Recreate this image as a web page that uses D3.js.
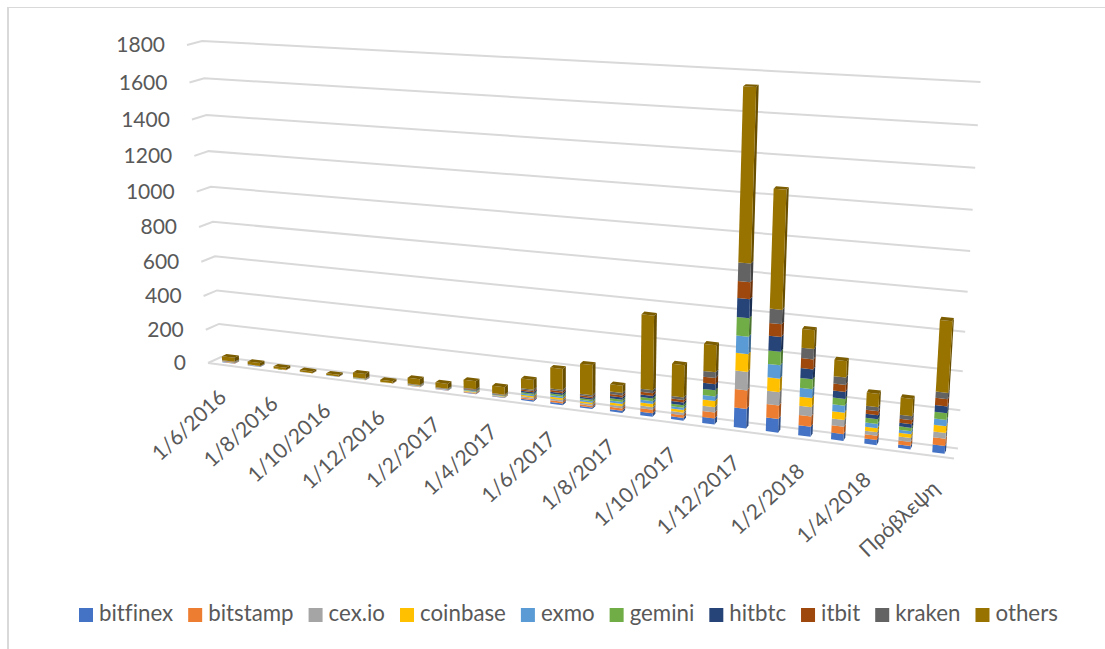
<!DOCTYPE html>
<html>
<head>
<meta charset="utf-8">
<script src="https://cdn.jsdelivr.net/npm/d3@7"></script>
<style>
  html, body { margin: 0; padding: 0; background: #fff; }
  svg { display: block; }
  text { font-family: Lato, "Open Sans", sans-serif; fill: #595959; font-variant-ligatures: none; }
</style>
</head>
<body>
<svg id="chart" width="1105" height="649"></svg>
<script>
// Monthly category labels: only every second month is printed on the axis.
const categories = ["1/6/2016","1/7/2016","1/8/2016","1/9/2016","1/10/2016","1/11/2016","1/12/2016",
  "1/1/2017","1/2/2017","1/3/2017","1/4/2017","1/5/2017","1/6/2017","1/7/2017","1/8/2017","1/9/2017",
  "1/10/2017","1/11/2017","1/12/2017","1/1/2018","1/2/2018","1/3/2018","1/4/2018","1/5/2018","Πρόβλεψη"];
const valueTicks = [0,200,400,600,800,1000,1200,1400,1600,1800];

const bitfinex = [2,1,0.5,0.4,0.4,1,0.4,1.4,1.3,3.2,2.1,7.5,10,9,12,19,15,33,106,74,54,36,27,18,40];
const bitstamp = [2,1,0.5,0.4,0.4,1,0.4,1.4,1.3,3.2,2.1,7.5,10,9,13,19,15,33,100,72,54,39,23,21,38];
const cexio    = [1,0.6,0.3,0.3,0.3,1,0.4,1.4,1.3,3.2,2.1,7.5,10,8.5,12,15,14,29,99,71,49,36,18,21,30];
const coinbase = [1,0.6,0.3,0.3,0.3,1,0.3,1.4,1.3,3.2,2.1,7.5,10,8.5,12,17,14,33,94,71,49,39,21,19,35];
const exmo     = [1,0.6,0.3,0.2,0.3,1,0.3,1.4,1.3,3.2,2.1,7.5,8,8.5,12,15,13,25,91,71,47,36,23,16,32];
const gemini   = [1,0.6,0.3,0.2,0.2,1,0.3,1.4,1.3,3.2,2.1,7.5,10,8.5,12,15,14,33,97,71,52,36,24,18,35];
const hitbtc   = [1,0.6,0.2,0.2,0.2,1,0.3,1.4,1.3,3.2,2.1,7.5,10,8.5,12,15,14,33,99,77,52,37,21,19,35];
const itbit    = [1,0.6,0.2,0.2,0.2,1,0.3,1.4,1.3,3.2,2.1,7.5,10,8.5,12,15,14,33,88,67,52,36,21,21,38];
const kraken   = [2,1,0.5,0.3,0.3,1,0.3,1.4,1.3,3.2,2.1,7.5,8,8.5,13,16,14,31,95,74,54,39,21,21,32];
const others   = [24,17,12,10,10,28,12,34,28,46,42,55,117,167,40,403,175,144,871,605,97,85,70,89,362];

const seriesNames  = ["bitfinex","bitstamp","cex.io","coinbase","exmo","gemini","hitbtc","itbit","kraken","others"];
const seriesValues = [bitfinex,bitstamp,cexio,coinbase,exmo,gemini,hitbtc,itbit,kraken,others];
const seriesColors = ["#4472C4","#ED7D31","#A5A5A5","#FFC000","#5B9BD5","#70AD47","#264478","#9E480E","#636363","#997300"];

const svg = d3.select("#chart");
const GRID = "#D9D9D9";

// Frame of the chart area.
svg.append("path").attr("d", "M8,649V7.5H1105").attr("fill", "none").attr("stroke", GRID).attr("stroke-width", 1);
svg.append("line").attr("x1", 8).attr("x2", 8).attr("y1", 7).attr("y2", 649).attr("stroke", GRID).attr("stroke-width", 2);

// Perspective stretches the value axis slightly towards the top.
const valueT = d3.scaleLinear().domain([0, 1800]).range([0, 1]);
const lift = 0.07;
const warp = v => { const t = valueT(v); return t / (1 + lift * (1 - t)); };

// The perspective box: one value-to-pixel mapping for each vertical edge.
const edge = (x0, x1, y0, y1) => {
  const sx = d3.scaleLinear().domain([0, 1]).range([x0, x1]);
  const sy = d3.scaleLinear().domain([0, 1]).range([y0, y1]);
  return { x: v => sx(warp(v)), y: v => sy(warp(v)) };
};
const backLeft   = edge(221, 202, 357, 41);
const backRight  = edge(958, 980.5, 448.5, 82);
const frontLeft  = edge(208, 187, 363, 45);
const frontRight = edge(954, 976.5, 458.5, 89);

// s runs along the width of the box, depth runs 0 (wall) to 1 (front edge).
function project(s, v, depth) {
  const mix = d3.interpolateNumber;
  const lx = mix(backLeft.x(v), frontLeft.x(v))(depth), ly = mix(backLeft.y(v), frontLeft.y(v))(depth);
  const rx = mix(backRight.x(v), frontRight.x(v))(depth), ry = mix(backRight.y(v), frontRight.y(v))(depth);
  return [mix(lx, rx)(s), mix(ly, ry)(s)];
}

// Category position with foreshortening towards the far end of the box.
const catT = d3.scaleLinear().domain([0, categories.length - 1]).range([0, 1]);
const catS = d3.scaleLinear().domain([0, 1]).range([0.0215, 0.9772]);
const foreshorten = 0.164;
const sOf = i => { const t = catT(i); return catS(t / (1 + foreshorten * (1 - t))); };

const line = d3.line();

// Gridlines: side-wall stub plus back-wall run.
svg.append("g").selectAll("path").data(valueTicks).join("path")
  .attr("d", v => line([[frontLeft.x(v), frontLeft.y(v)], [backLeft.x(v), backLeft.y(v)], [backRight.x(v), backRight.y(v)]]))
  .attr("fill", "none").attr("stroke", GRID).attr("stroke-width", 2);
// Front edge of the floor.
svg.append("path").attr("d", line([[frontLeft.x(0), frontLeft.y(0)], [frontRight.x(0), frontRight.y(0)]]))
  .attr("fill", "none").attr("stroke", GRID).attr("stroke-width", 2);

// Value axis labels follow the slanted left edge.
svg.append("g").selectAll("text").data(valueTicks).join("text")
  .attr("x", v => frontLeft.x(v) - 22)
  .attr("y", v => frontLeft.y(v) + 2)
  .attr("text-anchor", "end").attr("dominant-baseline", "middle")
  .attr("font-size", 21)
  .text(v => v);

// Stacked 3D columns.
const stack = d3.stack().keys(d3.range(seriesNames.length)).value((d, k) => seriesValues[k][d]);
const layers = stack(d3.range(categories.length));
const halfW = 0.0083, dFront = 0.66, dBack = 0.3;
const poly = pts => line(pts) + "Z";
const barsG = svg.append("g");
categories.forEach((c, i) => {
  const s = sOf(i);
  const g = barsG.append("g");
  layers.forEach((layer, k) => {
    const [v0, v1] = layer[i];
    const col = d3.color(seriesColors[k]);
    g.append("path").attr("fill", col.darker(1.1))
      .attr("d", poly([project(s + halfW, v0, dFront), project(s + halfW, v0, dBack), project(s + halfW, v1, dBack), project(s + halfW, v1, dFront)]));
    g.append("path").attr("fill", col)
      .attr("d", poly([project(s - halfW, v0, dFront), project(s + halfW, v0, dFront), project(s + halfW, v1, dFront), project(s - halfW, v1, dFront)]));
    if (k === layers.length - 1) {
      g.append("path").attr("fill", col.darker(0.6))
        .attr("d", poly([project(s - halfW, v1, dFront), project(s + halfW, v1, dFront), project(s + halfW, v1, dBack), project(s - halfW, v1, dBack)]));
    }
  });
});

// Category labels, every second month, rotated along the floor edge.
svg.append("g").selectAll("text")
  .data(categories.map((c, i) => ({ c, i })).filter(d => d.i % 2 === 0))
  .join("text")
  .attr("transform", d => {
    const [x, y] = project(sOf(d.i), 0, 1);
    return `translate(${x},${y + 30}) rotate(-43)`;
  })
  .attr("text-anchor", "end").attr("dominant-baseline", "middle")
  .attr("font-size", 21)
  .text(d => d.c);

// Legend, laid out left to right from the measured label widths.
const legend = svg.append("g");
let cursor = 79;
seriesNames.forEach((name, k) => {
  legend.append("rect").attr("x", cursor).attr("y", 608).attr("width", 14).attr("height", 14).attr("fill", seriesColors[k]);
  const t = legend.append("text").attr("x", cursor + 20).attr("y", 615)
    .attr("dominant-baseline", "middle").attr("font-size", 22.3).text(name);
  cursor += 20 + t.node().getComputedTextLength() + 15;
});
</script>
</body>
</html>
